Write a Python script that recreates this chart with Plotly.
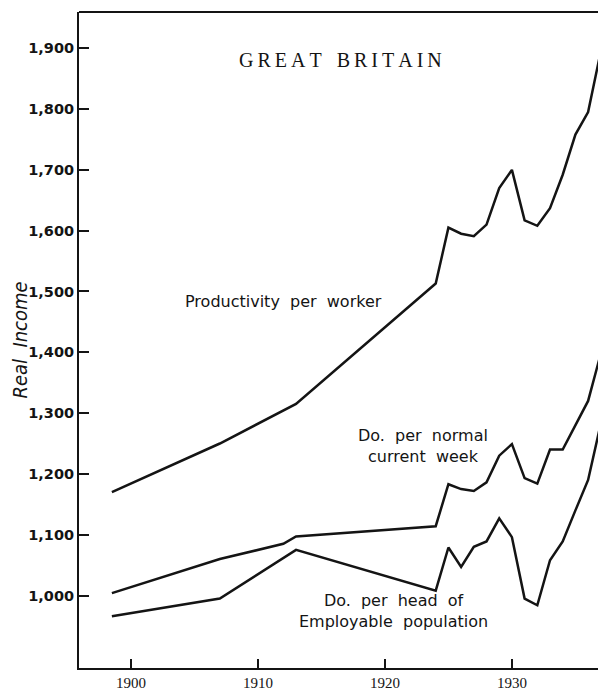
import plotly.graph_objects as go

# ---- data ----
years_prod = [1898.5, 1907, 1913, 1924, 1925, 1926, 1927, 1928, 1929, 1930,
              1931, 1932, 1933, 1934, 1935, 1936, 1937]
prod_worker = [1170, 1250, 1315, 1513, 1605, 1595, 1591, 1610, 1670, 1700,
               1617, 1608, 1637, 1692, 1758, 1795, 1895]

years_week = [1898.5, 1907, 1912, 1913, 1924, 1925, 1926, 1927, 1928, 1929,
              1930, 1931, 1932, 1933, 1934, 1935, 1936, 1937]
per_week = [1004, 1060, 1085, 1097, 1114, 1183, 1175, 1172, 1186, 1230,
            1249, 1193, 1184, 1240, 1240, 1279, 1320, 1398]

years_head = [1898.5, 1907, 1913, 1924, 1925, 1926, 1927, 1928, 1929, 1930,
              1931, 1932, 1933, 1934, 1935, 1936, 1937]
per_head = [966, 995, 1075, 1008, 1079, 1047, 1080, 1089, 1127, 1096,
            995, 984, 1058, 1089, 1140, 1190, 1283]

x_ticks = [1900, 1910, 1920, 1930]
y_ticks = [1000, 1100, 1200, 1300, 1400, 1500, 1600, 1700, 1800, 1900]
y_ticktext = ["1,000", "1,100", "1,200", "1,300", "1,400", "1,500",
              "1,600", "1,700", "1,800", "1,900"]

TS = "\u2009"
title_text = TS.join("GREAT") + "&nbsp;&nbsp;&nbsp;" + TS.join("BRITAIN")
label_prod = "Productivity&nbsp; per&nbsp; worker"
label_week = "Do.&nbsp; per&nbsp; normal<br>current&nbsp; week"
label_head = "Do.&nbsp; per&nbsp; head&nbsp; of<br>Employable&nbsp; population"
y_title = "Real&nbsp; Income"

INK = "#141414"

fig = go.Figure()
for xs, ys in [(years_prod, prod_worker), (years_week, per_week), (years_head, per_head)]:
    fig.add_trace(go.Scatter(x=xs, y=ys, mode="lines",
                             line=dict(color=INK, width=2.5),
                             showlegend=False, hoverinfo="skip"))

lab_font = dict(family="DejaVu Sans", size=16, color=INK)
fig.add_annotation(x=1916.5, y=1881, text=title_text, showarrow=False,
                   font=dict(family="Liberation Serif, DejaVu Serif", size=20, color=INK))
fig.add_annotation(x=1912.0, y=1483, text=label_prod, showarrow=False, font=lab_font)
fig.add_annotation(x=1923.0, y=1246, text=label_week, showarrow=False, font=lab_font,
                   align="center")
fig.add_annotation(x=1920.7, y=974, text=label_head, showarrow=False, font=lab_font,
                   align="center")

# top frame line
fig.add_shape(type="line", xref="paper", yref="paper", x0=0, x1=1, y0=1, y1=1,
              line=dict(color=INK, width=2))

# the page body adds an 8px margin on every side, so the figure is sized
# to fit inside the 606x700 window without scrolling
fig.update_layout(
    width=598, height=684,
    margin=dict(l=71, r=1, t=4, b=17),
    paper_bgcolor="white", plot_bgcolor="white",
    xaxis=dict(range=[1895.91, 1937.33], tickvals=x_ticks,
               ticktext=[str(v) for v in x_ticks],
               ticks="inside", ticklen=9, tickwidth=1.5, tickcolor=INK,
               showline=True, linecolor=INK, linewidth=2, showgrid=False,
               zeroline=False,
               tickfont=dict(family="Liberation Serif, DejaVu Serif", size=15, color=INK)),
    yaxis=dict(range=[880.8, 1959.6], tickvals=y_ticks, ticktext=y_ticktext,
               ticks="inside", ticklen=10, tickwidth=1.5, tickcolor=INK,
               showline=True, linecolor=INK, linewidth=2, showgrid=False,
               zeroline=False,
               tickfont=dict(family="DejaVu Sans", size=14.5, color=INK, weight="bold"),
               title=dict(text=y_title, standoff=2,
                          font=dict(family="Liberation Sans Narrow, DejaVu Sans Condensed, Roboto",
                                    size=20, color=INK, style="italic"))),
)

fig.write_html("out.html")
